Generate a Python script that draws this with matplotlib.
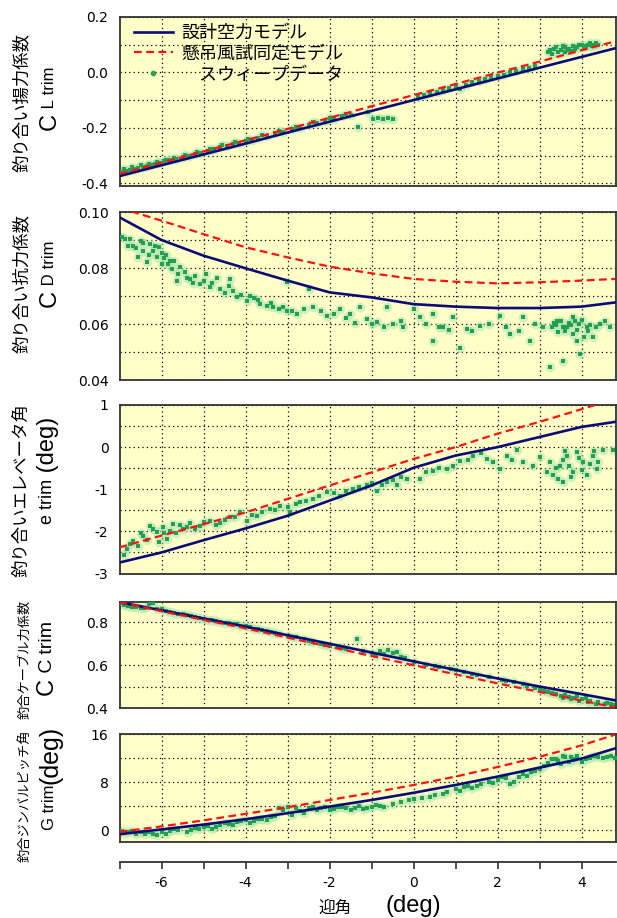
#  迎角に対する釣り合い状態の比較（設計モデル・風試同定モデル・スウィープデータ）

import matplotlib.pyplot as plt
from matplotlib.lines import Line2D
from matplotlib.transforms import IdentityTransform

plt.rcParams['font.family'] = ['Liberation Sans', 'Noto Sans CJK JP']

# モデル曲線の迎角 (deg)
alpha_model = [-7, -6, -5, -4, -3, -2, -1, 0, 1, 2, 3, 4, 4.8]

# 揚力係数
cl_design = [-0.374, -0.335, -0.296, -0.257, -0.217, -0.178, -0.139, -0.100, -0.061, -0.022, 0.017, 0.056, 0.087]
cl_wind = [-0.366, -0.326, -0.285, -0.245, -0.204, -0.164, -0.122, -0.082, -0.042, -0.001, 0.039, 0.080, 0.112]
cl_sweep_a = [-6.95, -6.85, -6.75, -6.65, -6.55, -6.45, -6.35, -6.25, -6.15, -6.05, -5.95, -5.8, -5.65, -5.5,
              -5.35, -5.2, -5.05, -4.9, -4.75, -4.6, -4.45, -4.3, -4.15, -4.0, -3.85, -3.7, -3.5, -3.3, -3.1,
              -2.9, -2.7, -2.5, -2.3, -2.1, -1.9, -1.7, -1.5, -1.32, -1.08, -0.96, -0.85, -0.72, -0.6, -0.49,
              0.1, 0.4, 0.7, 1.0, 1.1, 1.4, 1.7, 2.0, 2.3, 2.6, 2.9, 3.2, 3.35, 3.45, 3.5, 3.6, 3.7, 3.75, 3.8,
              3.9, 4.0, 4.1, 4.2, 4.3, 4.4,
              -6.9, -6.7, -6.5, -6.3, -6.1, -5.9, -5.7, -5.45, -5.15, -4.85, -4.55, -4.25, -3.95, -3.6, -3.2,
              -2.8, -2.4, -2.0, -1.6, 0.25, 0.55, 0.85, 1.25, 1.55, 1.85, 2.15, 2.45, 2.75,
              3.25, 3.4, 3.55, 3.65, 3.85, 3.95, 4.05, 4.15, 4.25, 4.35, 3.3, 3.6]
cl_sweep = [-0.360, -0.356, -0.352, -0.350, -0.344, -0.343, -0.337, -0.335, -0.329, -0.327, -0.321, -0.317,
            -0.311, -0.304, -0.302, -0.294, -0.290, -0.282, -0.278, -0.271, -0.267, -0.259, -0.255, -0.247,
            -0.245, -0.236, -0.230, -0.220, -0.214, -0.205, -0.201, -0.189, -0.183, -0.175, -0.168, -0.158,
            -0.152, -0.196, -0.142, -0.167, -0.166, -0.167, -0.166, -0.167,
            -0.088, -0.075, -0.062, -0.050, -0.060, -0.035, -0.022, -0.012, 0.000, 0.012, 0.022, 0.075, 0.085,
            0.072, 0.080, 0.090, 0.085, 0.078, 0.095, 0.090, 0.100, 0.095, 0.105, 0.100, 0.098,
            -0.350, -0.343, -0.336, -0.330, -0.322, -0.316, -0.308, -0.298, -0.287, -0.276, -0.262, -0.252,
            -0.240, -0.226, -0.212, -0.196, -0.180, -0.165, -0.150, -0.080, -0.070, -0.055, -0.045, -0.030,
            -0.018, -0.008, 0.005, 0.015,
            0.082, 0.090, 0.095, 0.080, 0.085, 0.098, 0.090, 0.100, 0.095, 0.105, 0.068, 0.074]

# 抗力係数
cd_design = [0.0981, 0.0900, 0.0844, 0.0799, 0.0755, 0.0713, 0.0695, 0.0671, 0.0662, 0.0657, 0.0657, 0.0662, 0.0677]
cd_wind = [0.1015, 0.0969, 0.0921, 0.0874, 0.0838, 0.0805, 0.0781, 0.0761, 0.0751, 0.0745, 0.0749, 0.0755, 0.0761]
cd_sweep_a = [-6.87, -6.8, -6.67, -6.55, -6.5, -6.43, -6.35, -6.27, -6.2, -6.11, -6.05, -6.0, -5.9, -5.8,
              -5.75, -5.64, -5.56, -5.45, -5.32, -5.2, -5.08, -4.95, -4.85, -4.69, -4.5, -4.37, -4.29, -4.2,
              -3.97, -3.8, -3.65, -3.5, -3.34, -3.2, -3.02, -3.02, -2.78, -2.5, -2.39, -2.07, -1.75, -1.51,
              -1.27, -1.11, -0.88, -0.64, -0.48, -0.24, 0.0, 0.15, 0.47, 0.47, 0.71, 0.95, 1.11, 1.27, 1.58,
              2.06, 2.3, 2.61, 2.77, 3.09, 3.25, 3.3, 3.4, 3.41, 3.5, 3.57, 3.6, 3.65, 3.7, 3.8, 3.8, 3.89,
              3.9, 3.96, 4.0, 4.05, 4.12, 4.2, 4.28, 4.44, 4.68,
              -6.95, -6.75, -6.6, -6.45, -6.3, -6.15, -6.0, -5.95, -5.85, -5.7, -5.6, -5.4, -5.25, -5.0, -4.8,
              -4.6, -4.4, -4.1, -3.9, -3.7, -3.4, -3.1, -2.9, -2.6, -2.2, -1.9, -1.6, -1.4, -1.0, -0.7, -0.3,
              0.3, 0.6, 0.85, 1.4, 1.8, 2.2, 2.5, 2.9, 3.35, 3.55, 3.75, 3.95, 4.15, 4.35, 4.55, 3.45, 3.85]
cd_sweep = [0.0904, 0.0880, 0.0880, 0.0840, 0.0895, 0.0862, 0.0820, 0.0886, 0.0860, 0.0838, 0.0875, 0.0814,
            0.0845, 0.0826, 0.0795, 0.0755, 0.0802, 0.0785, 0.0761, 0.0770, 0.0743, 0.0778, 0.0731, 0.0766,
            0.0710, 0.0761, 0.0719, 0.0695, 0.0683, 0.0693, 0.0671, 0.0665, 0.0659, 0.0655, 0.0648, 0.0749,
            0.0636, 0.0725, 0.0659, 0.0630, 0.0654, 0.0636, 0.0659, 0.0618, 0.0606, 0.0659, 0.0600, 0.0588,
            0.0654, 0.0624, 0.0636, 0.0540, 0.0588, 0.0624, 0.0516, 0.0582, 0.0594, 0.0630, 0.0564, 0.0624,
            0.0540, 0.0588, 0.0445, 0.0590, 0.0598, 0.0612, 0.0610, 0.0469, 0.0575, 0.0588, 0.0605, 0.0624,
            0.0565, 0.0540, 0.0580, 0.0493, 0.0615, 0.0555, 0.0588, 0.0595, 0.0552, 0.0600, 0.0588,
            0.0910, 0.0905, 0.0870, 0.0890, 0.0845, 0.0880, 0.0855, 0.0835, 0.0815, 0.0825, 0.0780, 0.0765,
            0.0745, 0.0755, 0.0745, 0.0725, 0.0735, 0.0705, 0.0700, 0.0685, 0.0675, 0.0660, 0.0645, 0.0655,
            0.0645, 0.0635, 0.0620, 0.0605, 0.0600, 0.0590, 0.0610, 0.0600, 0.0590, 0.0580, 0.0575, 0.0600,
            0.0590, 0.0575, 0.0600, 0.0605, 0.0590, 0.0595, 0.0600, 0.0575, 0.0590, 0.0610, 0.0570, 0.0610]

# エレベータ角 (deg)
de_design = [-2.74, -2.50, -2.21, -1.93, -1.63, -1.27, -0.91, -0.49, -0.20, 0.00, 0.24, 0.48, 0.60]
de_wind = [-2.38, -2.10, -1.83, -1.55, -1.23, -0.91, -0.60, -0.28, 0.00, 0.32, 0.60, 0.90, 1.15]
de_sweep_a = [-6.83, -6.67, -6.43, -6.27, -6.11, -5.96, -5.88, -5.72, -5.48, -5.32, -5.08, -4.85, -4.61,
              -4.37, -4.13, -3.97, -3.73, -3.42, -3.18, -2.94, -2.7, -2.39, -2.07, -1.75, -1.43, -1.11, -0.88,
              -0.64, -0.4, -0.16, 0.15, 0.47, 0.79, 1.11, 1.42, 1.74, 2.06, 2.22, 2.46, 2.61, 2.85, 3.01,
              3.17, 3.33, 3.49, 3.57, 3.65, 3.8, 3.89, 4.04, 4.12, 4.28, 4.36, 4.52, 4.76,
              -6.9, -6.75, -6.55, -6.5, -6.35, -6.2, -6.05, -5.95, -5.8, -5.65, -5.55, -5.4, -5.2, -5.0, -4.7,
              -4.5, -4.25, -3.85, -3.6, -3.3, -3.0, -2.8, -2.55, -2.25, -1.9, -1.6, -1.3, -1.0, -0.75, -0.5,
              -0.3, 0.3, 0.6, 0.95, 1.3, 1.6, 1.9, 2.35, 3.25, 3.4, 3.55, 3.7, 3.75, 3.95, 4.0, 4.2, 4.3, 4.4,
              3.6, 3.45]
de_sweep = [-2.42, -2.22, -2.10, -1.87, -2.02, -1.90, -2.18, -1.83, -1.94, -1.79, -1.87, -1.75, -1.79, -1.67,
            -1.55, -1.75, -1.63, -1.47, -1.39, -1.55, -1.31, -1.23, -1.07, -1.15, -0.99, -0.91, -1.03, -0.83,
            -0.91, -0.75, -0.75, -0.56, -0.52, -0.32, -0.20, -0.28, -0.52, -0.20, -0.08, -0.36, -0.44, -0.24,
            -0.60, -0.67, -0.44, -0.83, -0.20, -0.60, -0.12, -0.36, -0.67, -0.20, -0.52, -0.08, -0.08,
            -2.55, -2.30, -2.35, -2.05, -2.20, -1.95, -2.25, -2.05, -1.98, -2.05, -1.85, -1.90, -1.95, -1.78,
            -1.85, -1.72, -1.65, -1.60, -1.55, -1.50, -1.42, -1.35, -1.28, -1.15, -1.10, -1.05, -0.95, -0.85,
            -0.90, -0.78, -0.70, -0.60, -0.50, -0.45, -0.30, -0.15, -0.35, -0.30, -0.35, -0.50, -0.30, -0.45,
            -0.70, -0.25, -0.55, -0.40, -0.10, -0.35, -0.10, -0.75]

# ケーブル力係数
cc_design = [0.894, 0.856, 0.818, 0.780, 0.740, 0.700, 0.659, 0.618, 0.578, 0.538, 0.500, 0.465, 0.436]
cc_wind = [0.894, 0.852, 0.812, 0.772, 0.729, 0.686, 0.643, 0.600, 0.557, 0.515, 0.475, 0.435, 0.402]
cc_sweep_a = [-6.9, -6.8, -6.6, -6.4, -6.3, -6.2, -6.0, -5.8, -5.6, -5.4, -5.2, -5.0, -4.8, -4.6, -4.4, -4.2,
              -4.0, -3.8, -3.6, -3.4, -3.2, -3.0, -2.8, -2.6, -2.4, -2.2, -2.0, -1.8, -1.6, -1.35, -1.2, -1.0,
              -0.9, -0.8, -0.6, -0.5, -0.4, -0.3, 0.0, 0.3, 0.6, 0.9, 1.2, 1.5, 1.8, 2.1, 2.4, 2.7, 3.0, 3.2,
              3.4, 3.5, 3.6, 3.7, 3.8, 3.9, 4.0, 4.1, 4.2, 4.4, 4.6, 4.7,
              -6.95, -6.7, -6.5, -6.1, -5.9, -5.7, -5.5, -5.3, -5.1, -4.9, -4.7, -4.5, -4.3, -4.1, -3.9, -3.7,
              -3.5, -3.3, -2.9, -2.5, -2.1, -1.7, -0.7, -0.2, 0.5, 1.0, 1.4, 2.2, 2.6, 2.9, 3.1, 3.3, 3.55,
              3.75, 3.95, 4.15, 4.35, 4.55, 4.75]
cc_sweep = [0.880, 0.875, 0.870, 0.868, 0.885, 0.890, 0.860, 0.850, 0.840, 0.835, 0.825, 0.815, 0.810, 0.800,
            0.795, 0.790, 0.785, 0.770, 0.765, 0.755, 0.745, 0.735, 0.730, 0.720, 0.710, 0.700, 0.690, 0.683,
            0.675, 0.720, 0.665, 0.655, 0.645, 0.665, 0.670, 0.655, 0.660, 0.640, 0.615, 0.600, 0.590, 0.580,
            0.570, 0.555, 0.545, 0.530, 0.520, 0.505, 0.490, 0.475, 0.465, 0.455, 0.460, 0.450, 0.445, 0.455,
            0.440, 0.448, 0.435, 0.430, 0.425, 0.420,
            0.890, 0.872, 0.866, 0.862, 0.852, 0.845, 0.838, 0.830, 0.820, 0.812, 0.805, 0.798, 0.792, 0.784,
            0.776, 0.768, 0.760, 0.750, 0.733, 0.715, 0.695, 0.680, 0.650, 0.635, 0.595, 0.578, 0.560, 0.525,
            0.510, 0.495, 0.480, 0.470, 0.445, 0.440, 0.435, 0.430, 0.420, 0.418, 0.415]

# ジンバルピッチ角 (deg)
gp_design = [-0.7, 0.1, 0.9, 1.8, 2.8, 3.9, 5.0, 6.2, 7.5, 8.9, 10.4, 11.9, 13.6]
gp_wind = [-0.3, 0.6, 1.6, 2.7, 3.8, 5.0, 6.2, 7.5, 8.9, 10.5, 12.2, 14.1, 15.9]
gp_sweep_a = [-6.95, -6.8, -6.6, -6.4, -6.2, -6.0, -5.8, -5.6, -5.4, -5.2, -5.0, -4.8, -4.6, -4.4, -4.2, -4.0,
              -3.8, -3.6, -3.4, -3.2, -3.0, -2.9, -2.7, -2.5, -2.3, -2.1, -1.9, -1.7, -1.5, -1.3, -1.1, -0.9,
              -0.7, -0.5, -0.3, -0.1, 0.2, 0.5, 0.8, 1.0, 1.2, 1.4, 1.6, 1.8, 2.0, 2.2, 2.4, 2.6, 2.8, 3.0,
              3.2, 3.4, 3.5, 3.6, 3.8, 3.9, 4.0, 4.2, 4.4, 4.6, 4.8,
              -6.9, -6.7, -6.5, -6.3, -6.1, -5.9, -5.7, -5.3, -5.1, -4.9, -4.7, -4.5, -4.3, -4.1, -3.9, -3.7,
              -3.5, -3.3, -3.1, -2.8, -2.6, -2.4, -2.2, -2.0, -1.8, -1.6, -1.4, -1.2, -1.0, -0.8, 0.0, 0.4,
              0.7, 1.1, 1.3, 1.5, 1.9, 2.1, 2.3, 2.5, 2.7, 2.9, 3.1, 3.3, 3.45, 3.55, 3.7, 3.75, 3.85, 4.1,
              4.3, 4.5, 4.7]
gp_sweep = [-0.2, -0.4, -0.6, -0.7, -0.6, -0.4, -0.2, 0.0, -0.3, 0.3, 0.5, 0.2, 0.8, 1.0, 1.3, 1.6, 1.5, 1.9,
            2.1, 3.6, 3.9, 2.5, 3.2, 3.6, 3.3, 3.8, 3.5, 3.9, 3.4, 4.0, 3.6, 4.2, 3.8, 4.3, 4.6, 5.0, 5.4, 5.8,
            6.3, 6.8, 7.2, 7.0, 7.6, 8.0, 8.3, 8.7, 8.0, 9.3, 9.6, 10.1, 11.2, 11.8, 11.0, 12.1, 11.6, 12.3,
            11.4, 12.0, 12.2, 12.1, 12.0,
            -0.5, -0.2, -0.3, -0.4, -0.9, -0.6, 0.1, 0.0, 0.2, 0.6, 0.5, 1.1, 0.9, 1.5, 1.2, 1.8, 1.7, 2.4,
            3.3, 3.7, 2.9, 3.9, 3.6, 3.4, 3.9, 3.6, 3.7, 3.5, 3.9, 4.0, 5.2, 5.5, 6.0, 6.5, 7.4, 7.3, 7.8,
            8.9, 7.6, 8.8, 9.0, 9.9, 10.6, 11.9, 11.5, 12.4, 11.3, 12.2, 11.9, 11.8, 12.4, 12.0, 12.3]

# 縦軸の目盛り
cl_ticks = [-0.4, -0.3, -0.2, -0.1, 0.0, 0.1, 0.2]
cl_labels = ['-0.4', '', '-0.2', '', '0.0', '', '0.2']
cd_ticks = [0.04, 0.05, 0.06, 0.07, 0.08, 0.09, 0.10]
cd_labels = ['0.04', '', '0.06', '', '0.08', '', '0.10']
de_ticks = [-3, -2.5, -2, -1.5, -1, -0.5, 0, 0.5, 1]
de_labels = ['-3', '', '-2', '', '-1', '', '0', '', '1']
cc_ticks = [0.4, 0.5, 0.6, 0.7, 0.8]
cc_labels = ['0.4', '', '0.6', '', '0.8']
gp_ticks = [0, 4, 8, 12, 16]
gp_labels = ['0', '', '8', '', '16']
x_ticks = [-7, -6, -5, -4, -3, -2, -1, 0, 1, 2, 3, 4]
x_labels = ['', '-6', '', '-4', '', '-2', '', '0', '', '2', '', '4']

W, H = 617, 918
fig = plt.figure(figsize=(W / 100, H / 100), dpi=100)

XMIN, XMAX = -7, 4.82
LEFT, RIGHT = 119.5, 616
TICK_FONT = dict(fontsize=10, family='DejaVu Sans')


def panel(top, bottom, ylim, ticks, labels):
    ax = fig.add_axes([LEFT / W, 1 - bottom / H, (RIGHT - LEFT) / W, (bottom - top) / H])
    ax.set_facecolor('#ffffc8')
    ax.set_xlim(XMIN, XMAX)
    ax.set_ylim(*ylim)
    ax.set_xticks(range(-6, 5))
    ax.set_xticklabels([])
    ax.set_yticks(ticks)
    ax.set_yticklabels(labels, **TICK_FONT)
    ax.tick_params(length=0, pad=8)
    ax.grid(True, color='black', linestyle=(0, (1, 2.5)), linewidth=0.9)
    for s in ax.spines.values():
        s.set_color('#333333')
        s.set_linewidth(1.3)
    return ax


def draw(ax, design, wind, sweep_a, sweep):
    # スウィープデータ：淡いにじみの上に濃い点
    ax.scatter(sweep_a, sweep, s=48, color='#a6e0b0', alpha=0.5, linewidths=0, zorder=2)
    ax.scatter(sweep_a, sweep, s=11, marker='s', color='#22a050', linewidths=0, zorder=3)
    ax.plot(alpha_model, design, color='#0b0b78', lw=1.9, zorder=4)
    ax.plot(alpha_model, wind, color='#ff1010', lw=1.6, dashes=(3.5, 2), zorder=5)


def stacked_label(x, yc, parts):
    # 大きさの違う文字列を縦に並べて一つのラベルにする
    rend = fig.canvas.get_renderer()
    items = []
    for s, size in parts:
        t = fig.text(0, 0, s, fontsize=size, rotation=90, ha='center', va='bottom',
                     transform=IdentityTransform())
        items.append((t, t.get_window_extent(rend).height))
    y = H - yc - sum(h for _, h in items) / 2
    for t, h in items:
        t.set_position((x, y))
        y += h


def jp_label(x, yc, s, size):
    fig.text(x / W, 1 - yc / H, s, fontsize=size, rotation=90, ha='center', va='center')


ax1 = panel(17, 186, (-0.41, 0.2), cl_ticks, cl_labels)
draw(ax1, cl_design, cl_wind, cl_sweep_a, cl_sweep)
ax2 = panel(212, 380, (0.04, 0.10), cd_ticks, cd_labels)
draw(ax2, cd_design, cd_wind, cd_sweep_a, cd_sweep)
ax3 = panel(405, 573.5, (-3, 1), de_ticks, de_labels)
draw(ax3, de_design, de_wind, de_sweep_a, de_sweep)
ax4 = panel(602, 708, (0.4, 0.895), cc_ticks, cc_labels)
draw(ax4, cc_design, cc_wind, cc_sweep_a, cc_sweep)
ax5 = panel(734, 842, (-2, 16), gp_ticks, gp_labels)
draw(ax5, gp_design, gp_wind, gp_sweep_a, gp_sweep)

# 凡例
handles = [Line2D([], [], color='#0b0b78', lw=1.9),
           Line2D([], [], color='#ff1010', lw=1.6, dashes=(3.5, 2)),
           Line2D([], [], ls='none', marker='o', ms=3, color='#2aa14a')]
ax1.legend(handles, ['設計空力モデル', '懸吊風試同定モデル', '　スウィープデータ'],
           loc='upper left', bbox_to_anchor=(0.012, 1.0), frameon=False, fontsize=13,
           handlelength=2.2, handletextpad=0.45, labelspacing=0.2, borderpad=0.2, borderaxespad=0.25)

# 縦軸ラベル
jp_label(22, 102, '釣り合い揚力係数', 12.5)
stacked_label(50, 98, [('C', 17), (' L', 12), (' trim', 12)])
jp_label(22, 284, '釣り合い抗力係数', 12.5)
stacked_label(50, 274, [('C', 17), (' D', 12), (' trim', 12)])
jp_label(22, 490, '釣り合いエレベータ角', 12.5)
stacked_label(48, 470, [('e trim', 13), (' (deg)', 17)])
jp_label(25, 659, '釣合ケーブル力係数', 9.5)
stacked_label(47, 658, [('C', 17), (' C', 14), (' trim', 14)])
jp_label(25, 796, '釣合ジンバルピッチ角', 9.5)
stacked_label(50, 778, [('G trim', 12), ('(deg)', 18)])

# 共通の横軸
axx = fig.add_axes([LEFT / W, 1 - 862 / H, (RIGHT - LEFT) / W, 0.001])
axx.set_xlim(XMIN, XMAX)
axx.patch.set_visible(False)
for k in ('top', 'left', 'right'):
    axx.spines[k].set_visible(False)
axx.spines['bottom'].set_color('#333333')
axx.spines['bottom'].set_linewidth(1.3)
axx.set_yticks([])
axx.set_xticks(x_ticks)
axx.set_xticklabels(x_labels, **TICK_FONT)
axx.tick_params(axis='x', direction='out', length=5, width=1.2, pad=5, color='#333333')

fig.text(335 / W, 1 - 908 / H, '迎角', fontsize=12, ha='center', va='center')
fig.text(413 / W, 1 - 906 / H, '(deg)', fontsize=17, ha='center', va='center')

fig.savefig('out.png', dpi=100)
